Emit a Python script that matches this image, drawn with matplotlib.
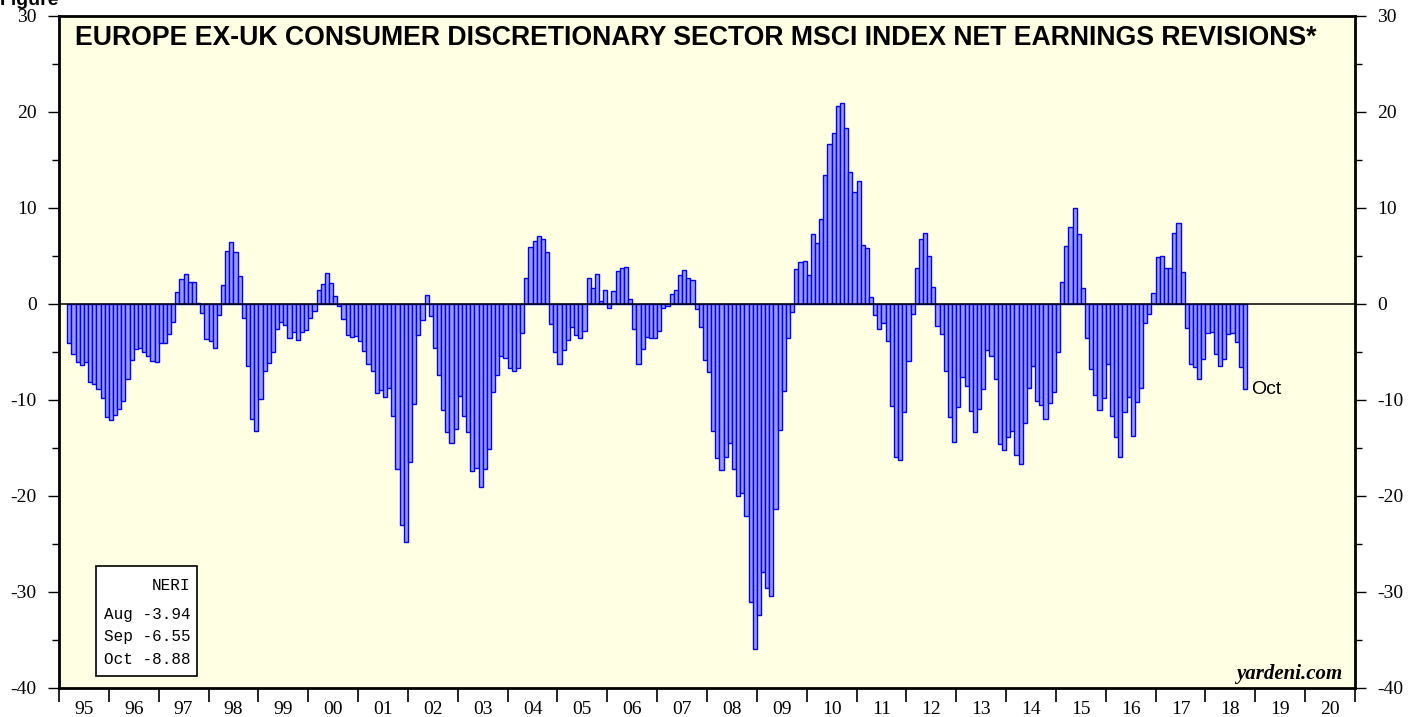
import numpy as np
import matplotlib.pyplot as plt
from matplotlib.patches import Rectangle

plt.rcParams['axes.unicode_minus'] = False

# NERI, monthly, Mar 1995 - Oct 2018
neri_1995 = [-4.1, -5.2, -6.0, -6.4, -6.0, -8.1, -8.3, -8.9, -9.8, -11.8]
neri_1996 = [-12.1, -11.6, -10.9, -10.1, -7.8, -5.8, -4.7, -4.6, -5.0, -5.4, -5.9, -6.0]
neri_1997 = [-4.1, -4.1, -3.1, -1.9, 1.2, 2.6, 3.1, 2.3, 2.3, 0.1, -0.9, -3.6]
neri_1998 = [-3.9, -4.6, -1.1, 2.0, 5.5, 6.5, 5.4, 2.9, -1.5, -6.5, -12.0, -13.2]
neri_1999 = [-9.9, -7.0, -6.1, -5.0, -2.6, -1.9, -2.2, -3.5, -2.9, -3.7, -2.9, -2.7]
neri_2000 = [-1.5, -0.7, 1.5, 2.1, 3.2, 2.2, 0.8, -0.2, -1.6, -3.2, -3.4, -3.3]
neri_2001 = [-3.9, -4.9, -6.3, -7.0, -9.3, -9.0, -9.7, -8.8, -11.7, -17.2, -23.0, -24.8]
neri_2002 = [-16.5, -10.4, -3.2, -1.7, 0.9, -1.3, -4.6, -7.4, -11.0, -13.3, -14.5, -13.0]
neri_2003 = [-9.6, -11.7, -13.3, -17.4, -17.1, -19.1, -17.2, -15.1, -9.2, -7.4, -5.4, -5.6]
neri_2004 = [-6.7, -7.0, -6.7, -3.0, 2.7, 5.9, 6.6, 7.1, 6.8, 5.4, -2.1, -5.0]
neri_2005 = [-6.2, -4.8, -3.7, -2.4, -3.2, -3.5, -2.8, 2.7, 1.7, 3.1, 0.35, 1.5]
neri_2006 = [-0.4, 1.4, 3.4, 3.8, 3.9, 0.5, -2.6, -6.3, -4.7, -3.4, -3.5, -3.5]
neri_2007 = [-2.8, -0.45, -0.25, 1.0, 1.5, 3.0, 3.5, 2.7, 2.5, -0.5, -2.4, -5.8]
neri_2008 = [-7.1, -13.2, -16.0, -17.3, -15.9, -14.5, -17.2, -20.0, -19.7, -22.1, -31.0, -35.9]
neri_2009 = [-32.4, -27.9, -29.6, -30.4, -21.4, -13.1, -9.1, -3.5, -0.8, 3.6, 4.4, 4.5]
neri_2010 = [3.0, 7.3, 6.4, 8.9, 13.4, 16.7, 17.8, 20.6, 20.9, 18.3, 13.7, 11.7]
neri_2011 = [12.8, 6.1, 5.8, 0.7, -1.1, -2.6, -2.0, -3.9, -10.6, -15.9, -16.3, -11.3]
neri_2012 = [-5.9, -1.0, 3.8, 6.8, 7.4, 5.0, 1.8, -2.3, -3.1, -7.0, -11.8, -14.4]
neri_2013 = [-10.7, -7.6, -8.5, -11.1, -13.3, -10.9, -8.9, -4.8, -5.4, -7.8, -14.6, -15.2]
neri_2014 = [-13.9, -13.2, -15.7, -16.7, -12.4, -8.7, -6.5, -10.1, -10.5, -12.0, -10.3, -9.2]
neri_2015 = [-5.0, 2.3, 6.0, 8.0, 10.0, 7.3, 1.7, -3.5, -6.8, -9.5, -11.0, -9.8]
neri_2016 = [-6.3, -11.7, -13.9, -15.9, -11.3, -9.7, -13.8, -10.2, -8.8, -2.0, -1.0, 1.1]
neri_2017 = [4.9, 5.0, 3.8, 3.7, 7.4, 8.4, 3.3, -2.5, -6.2, -6.6, -7.8, -5.7]
neri_2018 = [-3.0, -2.9, -5.2, -6.5, -5.7, -3.1, -3.0, -3.94, -6.55, -8.88]

year_labels = ['95', '96', '97', '98', '99', '00', '01', '02', '03', '04', '05', '06', '07',
               '08', '09', '10', '11', '12', '13', '14', '15', '16', '17', '18', '19', '20']
box_lines = ['Aug -3.94', 'Sep -6.55', 'Oct -8.88']

vals = np.array(neri_1995 + neri_1996 + neri_1997 + neri_1998 + neri_1999 + neri_2000 +
                neri_2001 + neri_2002 + neri_2003 + neri_2004 + neri_2005 + neri_2006 +
                neri_2007 + neri_2008 + neri_2009 + neri_2010 + neri_2011 + neri_2012 +
                neri_2013 + neri_2014 + neri_2015 + neri_2016 + neri_2017 + neri_2018)
x = 1995 + 2 / 12 + np.arange(len(vals)) / 12

W, H = 1419, 717
fig = plt.figure(figsize=(W / 100, H / 100), dpi=100)
ax = fig.add_axes([59 / W, 29 / H, 1296 / W, 672 / H])
ax.set_facecolor('#ffffe3')

ax.bar(x, vals, width=1 / 12, align='edge', color='#9a9aff', edgecolor='#0000ff', linewidth=1.0)
ax.axhline(0, color='black', lw=1.1, zorder=3)

ax.set_xlim(1995, 2021)
ax.set_ylim(-40, 30)

# y axis: labels on both sides
ax.set_yticks(np.arange(-40, 31, 10))
ax.set_yticks(np.arange(-35, 30, 10), minor=True)
ax.tick_params(axis='y', which='both', left=True, right=True, labelleft=True, labelright=True,
               direction='out', labelsize=14, width=1)
ax.tick_params(axis='y', which='major', length=8, pad=8)
ax.tick_params(axis='y', which='minor', length=5)

# x axis: year ticks, labels between them
ax.set_xticks(np.arange(1995, 2022))
ax.set_xticklabels([])
ax.set_xticks(np.arange(1995, 2021) + 0.5, minor=True)
ax.set_xticklabels(year_labels, minor=True)
ax.tick_params(axis='x', which='major', length=10, width=1.2, direction='out')
ax.tick_params(axis='x', which='minor', length=0, labelsize=14, pad=9)

for lab in ax.get_xticklabels(minor=True) + ax.get_yticklabels():
    lab.set_family('Liberation Serif')

for s in ax.spines.values():
    s.set_linewidth(2)

ax.text(0.012, 0.968, 'EUROPE EX-UK CONSUMER DISCRETIONARY SECTOR MSCI INDEX NET EARNINGS REVISIONS*',
        transform=ax.transAxes, family='Liberation Sans', weight='bold', fontsize=19.2,
        ha='left', va='center')

ax.text(x[-1] + 2 / 12, vals[-1], 'Oct', family='Liberation Sans', fontsize=14,
        ha='left', va='center')

ax.text(0.99, 0.006, 'yardeni.com', transform=ax.transAxes, family='Liberation Serif',
        weight='bold', style='italic', fontsize=15, ha='right', va='bottom')

# page heading, cut off at the top edge as in the source
fig.text(0.0, 1 - 5 / H, 'Figure', family='Liberation Sans', weight='bold', fontsize=14,
         ha='left', va='baseline')

# data box
bx0, by0 = 96 / W, (H - 676) / H
fig.patches.append(Rectangle((bx0, by0), 101 / W, 110 / H, transform=fig.transFigure,
                             facecolor='white', edgecolor='black', lw=1.2, zorder=5))
fig.text(190 / W, (H - 586) / H, 'NERI', family='Liberation Mono', fontsize=11.5,
         ha='right', va='center', zorder=6)
for i, line in enumerate(box_lines):
    fig.text(104 / W, (H - 614 - 22.5 * i) / H, line, family='Liberation Mono', fontsize=11.5,
             ha='left', va='center', zorder=6)

fig.savefig('out.png', dpi=100)
